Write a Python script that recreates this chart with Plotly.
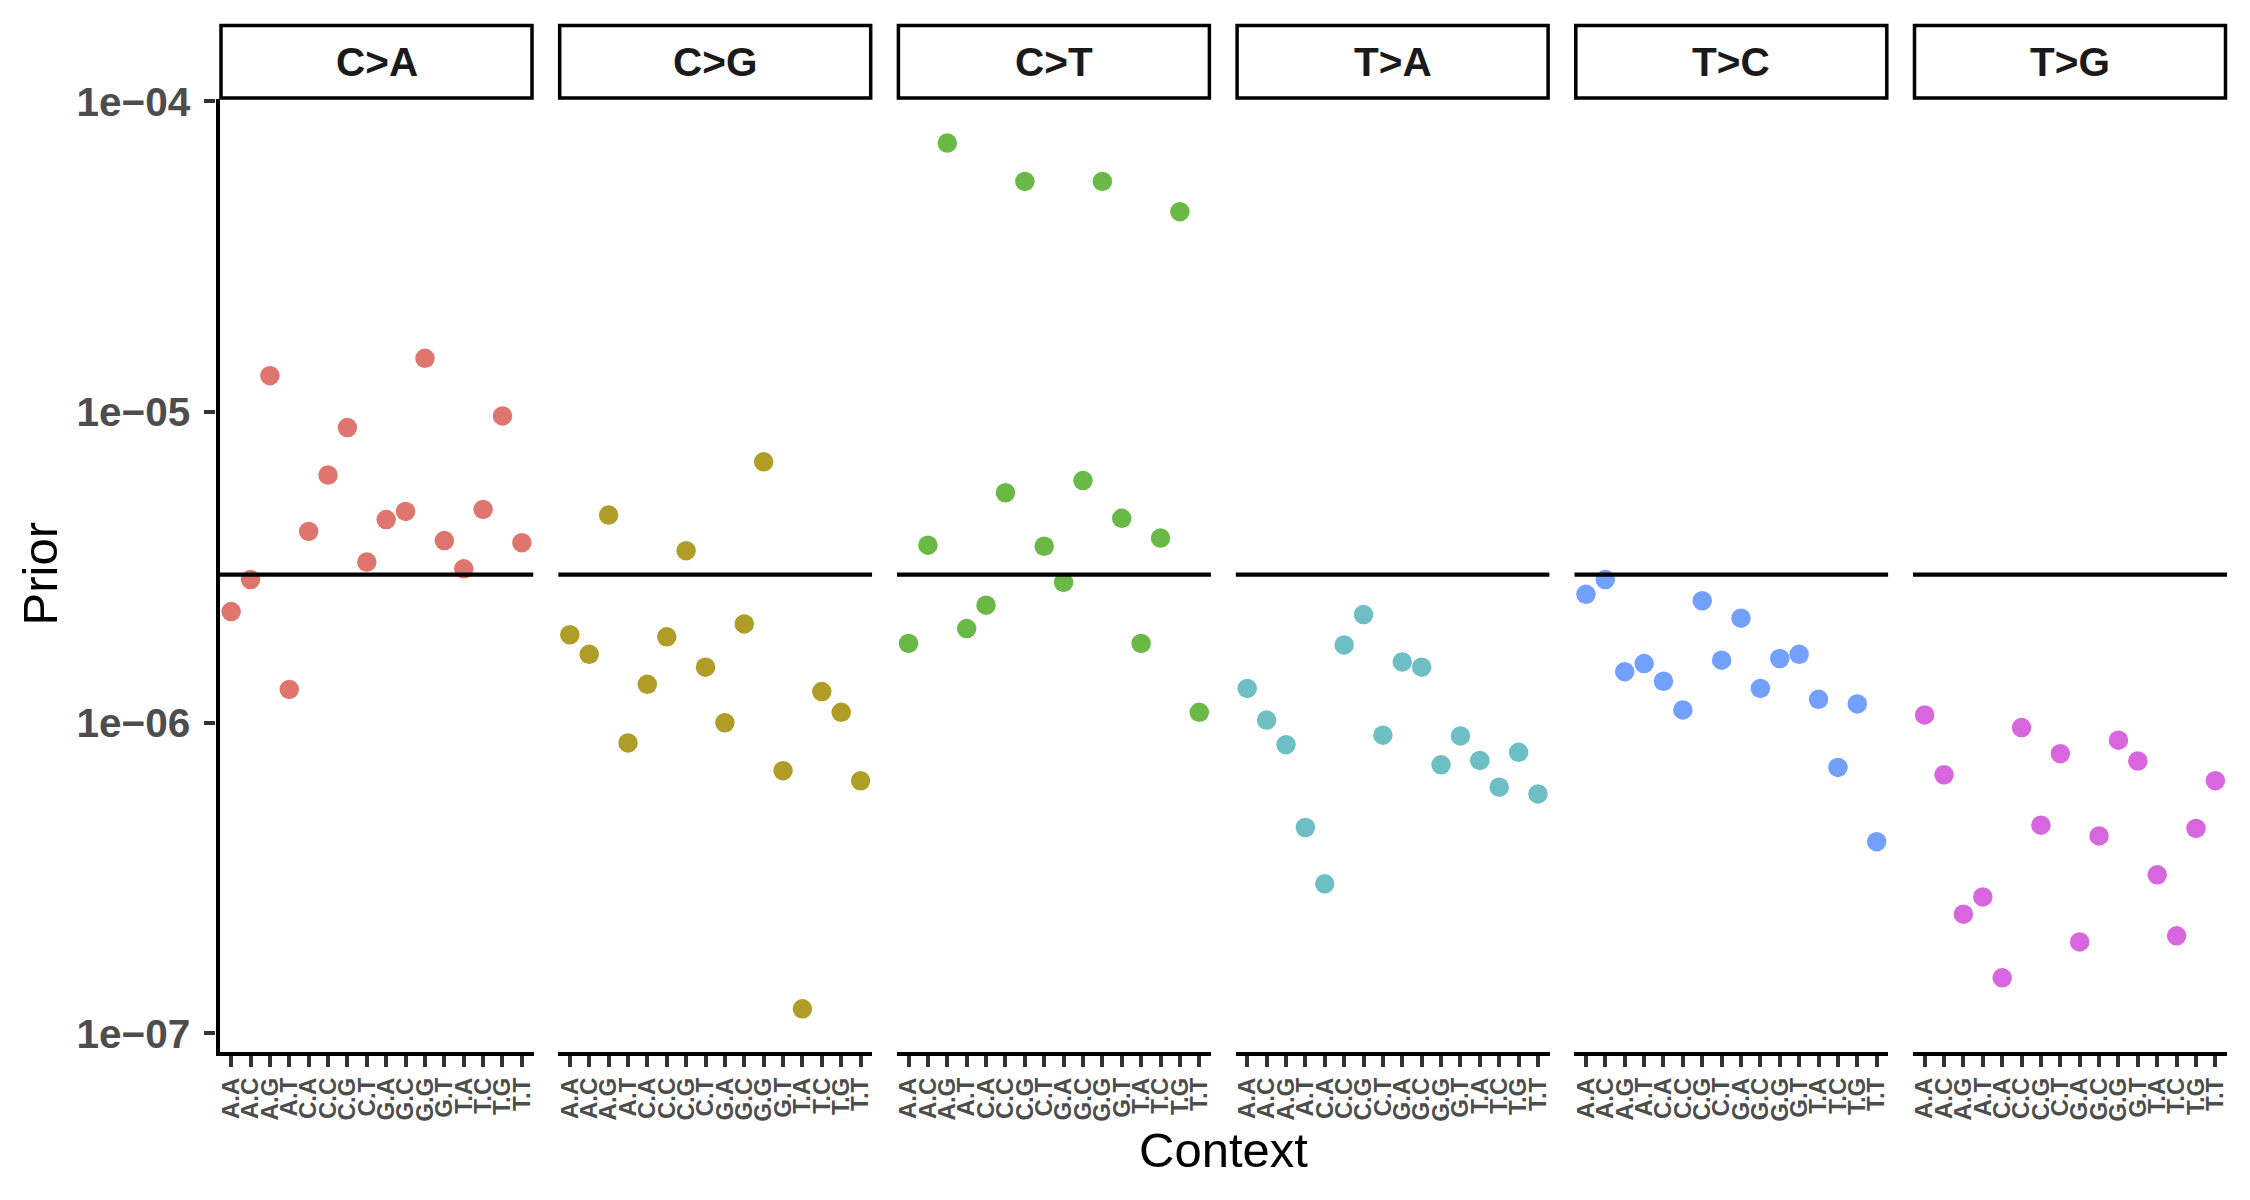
import plotly.graph_objects as go

W, H = 2250, 1200

contexts = ["A.A", "A.C", "A.G", "A.T", "C.A", "C.C", "C.G", "C.T",
            "G.A", "G.C", "G.G", "G.T", "T.A", "T.C", "T.G", "T.T"]

mutations = ["C>A", "C>G", "C>T", "T>A", "T>C", "T>G"]

prior_CA = [2.28e-6, 2.89e-6, 1.31e-5, 1.28e-6, 4.13e-6, 6.27e-6, 8.92e-6, 3.29e-6,
            4.51e-6, 4.79e-6, 1.49e-5, 3.86e-6, 3.13e-6, 4.86e-6, 9.72e-6, 3.80e-6]
prior_CG = [1.92e-6, 1.66e-6, 4.66e-6, 8.61e-7, 1.33e-6, 1.89e-6, 3.58e-6, 1.51e-6,
            1.00e-6, 2.08e-6, 6.92e-6, 7.01e-7, 1.20e-7, 1.26e-6, 1.08e-6, 6.50e-7]
prior_CT = [1.80e-6, 3.73e-6, 7.35e-5, 2.01e-6, 2.39e-6, 5.50e-6, 5.53e-5, 3.70e-6,
            2.83e-6, 6.02e-6, 5.53e-5, 4.55e-6, 1.80e-6, 3.93e-6, 4.42e-5, 1.08e-6]
prior_TA = [1.29e-6, 1.02e-6, 8.50e-7, 4.60e-7, 3.03e-7, 1.78e-6, 2.23e-6, 9.12e-7,
            1.57e-6, 1.51e-6, 7.32e-7, 9.07e-7, 7.56e-7, 6.20e-7, 8.03e-7, 5.90e-7]
prior_TC = [2.59e-6, 2.89e-6, 1.46e-6, 1.55e-6, 1.36e-6, 1.10e-6, 2.47e-6, 1.59e-6,
            2.17e-6, 1.29e-6, 1.61e-6, 1.66e-6, 1.19e-6, 7.18e-7, 1.15e-6, 4.14e-7]
prior_TG = [1.06e-6, 6.80e-7, 2.42e-7, 2.75e-7, 1.51e-7, 9.65e-7, 4.68e-7, 7.95e-7,
            1.97e-7, 4.32e-7, 8.79e-7, 7.53e-7, 3.24e-7, 2.06e-7, 4.57e-7, 6.51e-7]

priors = [prior_CA, prior_CG, prior_CT, prior_TA, prior_TC, prior_TG]
colors = ["#DE766F", "#B09D27", "#6AB946", "#6EBFC4", "#73A0FC", "#D866DE"]

threshold = 3e-6
y_ticks = [1e-4, 1e-5, 1e-6, 1e-7]
y_ticktext = ["1e\u221204", "1e\u221205", "1e\u221206", "1e\u221207"]

FONT = "Liberation Sans, Arial, Helvetica, sans-serif"

# layout geometry (pixels)
panel_x0 = 219.5
panel_pitch = 338.7
panel_w = 314
panel_top = 99
panel_bot = 1052
strip_top = 25.5
strip_bot = 98
n = len(mutations)

fig = go.Figure()
layout = dict(
    width=W, height=H,
    margin=dict(l=0, r=0, t=0, b=0, pad=0, autoexpand=False),
    paper_bgcolor="white", plot_bgcolor="white",
    showlegend=False,
    font=dict(family=FONT, color="black"),
)

shapes = []
annotations = []

for i, (mut, vals, col) in enumerate(zip(mutations, priors, colors)):
    sfx = "" if i == 0 else str(i + 1)
    xa, ya = "x" + sfx, "y" + sfx
    ov = str(n + i + 1)  # overlay axis index for the threshold line
    x0 = panel_x0 + i * panel_pitch
    x1 = x0 + panel_w
    dom_x = [x0 / W, x1 / W]
    dom_y = [1 - panel_bot / H, 1 - panel_top / H]

    fig.add_trace(go.Scatter(
        x=contexts, y=vals, mode="markers",
        marker=dict(color=col, size=19.5, line=dict(width=0)),
        xaxis=xa, yaxis=ya, name=mut, cliponaxis=False,
    ))
    # horizontal threshold line spanning the full panel (overlay x axis 0..1)
    fig.add_trace(go.Scatter(
        x=[0, 1], y=[threshold, threshold], mode="lines",
        line=dict(color="black", width=4.3),
        xaxis="x" + ov, yaxis=ya, hoverinfo="skip", cliponaxis=False,
    ))

    layout["xaxis" + sfx] = dict(
        domain=dom_x, anchor=ya, automargin=False,
        type="category", categoryorder="array", categoryarray=contexts,
        range=[-0.6, 15.6],
        tickmode="array", tickvals=contexts,
        ticktext=["<b>%s</b>" % c for c in contexts],
        showgrid=False, zeroline=False,
        showline=True, linecolor="black", linewidth=4.3,
        ticks="outside", ticklen=11, tickwidth=4, tickcolor="#333333",
        tickangle=-90,
        tickfont=dict(family=FONT, size=24, color="#4D4D4D"),
        ticklabelstandoff=1,
    )
    layout["xaxis" + ov] = dict(
        domain=dom_x, anchor=ya, overlaying=xa, range=[0, 1],
        visible=False, automargin=False, fixedrange=True,
    )
    if i == 0:
        layout["yaxis"] = dict(
            domain=dom_y, anchor="x", type="log", range=[-7.06, -3.992],
            automargin=False,
            showgrid=False, zeroline=False,
            showline=True, linecolor="black", linewidth=4.3,
            ticks="outside", ticklen=11, tickwidth=4, tickcolor="#333333",
            tickmode="array", tickvals=y_ticks,
            ticktext=["<b>%s</b>" % t for t in y_ticktext],
            tickfont=dict(family=FONT, size=40.5, color="#4D4D4D"),
            ticklabelstandoff=6,
        )
    else:
        layout["yaxis" + sfx] = dict(
            domain=dom_y, anchor=xa, type="log", matches="y",
            range=[-7.06, -3.992], automargin=False,
            showgrid=False, zeroline=False, showline=False,
            showticklabels=False, ticks="",
        )

    # strip box
    shapes.append(dict(
        type="rect", xref="paper", yref="paper",
        x0=(x0 + 1.5) / W, x1=(x1 - 1.5) / W,
        y0=1 - strip_bot / H, y1=1 - strip_top / H,
        line=dict(color="black", width=3.5), fillcolor="white", layer="below",
    ))
    annotations.append(dict(
        text="<b>%s</b>" % mut, xref="paper", yref="paper",
        x=(x0 + x1) / 2 / W, y=1 - (strip_top + strip_bot) / 2 / H,
        xanchor="center", yanchor="middle", showarrow=False,
        font=dict(family=FONT, size=40.5, color="#1A1A1A"),
    ))

annotations.append(dict(
    text="Context", xref="paper", yref="paper",
    x=(panel_x0 + 5 * panel_pitch + panel_w + panel_x0) / 2 / W, y=1 - 1150 / H,
    xanchor="center", yanchor="middle", showarrow=False,
    font=dict(family=FONT, size=49, color="black"),
))
annotations.append(dict(
    text="Prior", xref="paper", yref="paper",
    x=39.5 / W, y=1 - 574 / H, textangle=-90,
    xanchor="center", yanchor="middle", showarrow=False,
    font=dict(family=FONT, size=49, color="black"),
))

layout["shapes"] = shapes
layout["annotations"] = annotations
fig.update_layout(**layout)

fig.write_html("out.html", config={"displayModeBar": False},
               post_script="document.body.style.margin='0';document.body.style.overflow='hidden';")
